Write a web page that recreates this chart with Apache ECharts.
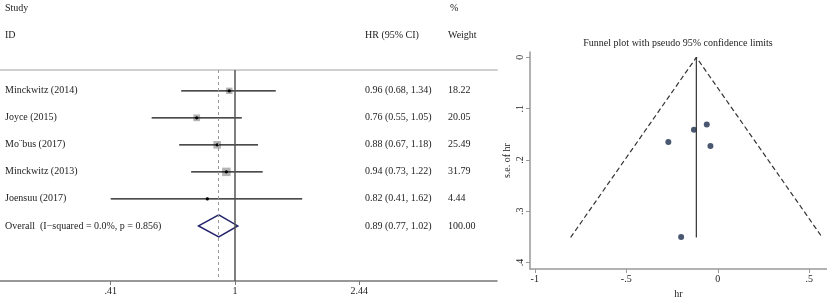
<!DOCTYPE html>
<html><head><meta charset="utf-8">
<script src="https://cdn.jsdelivr.net/npm/echarts@6/dist/echarts.min.js"></script>
<style>html,body{margin:0;padding:0;background:#fff}#c{width:827px;height:304px}</style>
</head><body><div id="c"></div>
<script>
// ---- Forest plot data ----
const studies = ['Minckwitz (2014)', 'Joyce (2015)', 'Mo\u00A8bus (2017)', 'Minckwitz (2013)', 'Joensuu (2017)'];
const hr = [0.96, 0.76, 0.88, 0.94, 0.82];
const ciLow = [0.68, 0.55, 0.67, 0.73, 0.41];
const ciHigh = [1.34, 1.05, 1.18, 1.22, 1.62];
const weights = ['18.22', '20.05', '25.49', '31.79', '4.44'];
const overallLabel = 'Overall  (I\u2212squared = 0.0%, p = 0.856)';
const overallHR = 0.89, overallLow = 0.77, overallHigh = 1.02;
const overallWeight = '100.00';
const forestTickValues = [0.41, 1, 2.44];
const forestTickLabels = ['.41', '1', '2.44'];

// ---- Funnel plot data ----
const funnelLnHR = [-0.04, -0.27, -0.13, -0.06, -0.20];
const funnelSE = [0.173, 0.165, 0.141, 0.131, 0.350];
const funnelPooled = -0.117;
const funnelSEMax = 0.351;
const funnelLimitX = [-0.804, -0.117, 0.571];
const funnelLimitY = [0.351, 0, 0.351];
const funnelXTicks = [-1, -0.5, 0, 0.5];
const funnelXLabels = ['-1', '-.5', '0', '.5'];
const funnelYTicks = [0, 0.1, 0.2, 0.3, 0.4];
const funnelYLabels = ['0', '.1', '.2', '.3', '.4'];

const FONT = '"Liberation Serif", "Times New Roman", serif';
const TXT = '#222';
const ln = Math.log;
const fmt = v => v.toFixed(2);
const hrText = (h, l, u) => fmt(h) + ' (' + fmt(l) + ', ' + fmt(u) + ')';

const rows = studies.map((s, i) => [i, ln(hr[i]), ln(ciLow[i]), ln(ciHigh[i]), parseFloat(weights[i])]);
const textRows = studies.map((s, i) => [i, s, hrText(hr[i], ciLow[i], ciHigh[i]), weights[i]]);
textRows.push([5, overallLabel, hrText(overallHR, overallLow, overallHigh), overallWeight]);

const fMin = -1.686, fMax = 1.880;

const chart = echarts.init(document.getElementById('c'), null, {renderer: 'canvas'});
chart.setOption({
  animation: false,
  textStyle: {fontFamily: FONT},
  grid: [
    {left: 0, right: 330, top: 70, bottom: 23},
    {left: 530, right: 0, top: 52, bottom: 29}
  ],
  xAxis: [
    {type: 'value', gridIndex: 0, min: fMin, max: fMax, position: 'bottom',
     axisLine: {onZero: false, lineStyle: {color: '#777', width: 1.5}},
     axisTick: {show: true, length: 4, lineStyle: {color: '#777'}, customValues: forestTickValues.map(v => ln(v))},
     axisLabel: {fontFamily: FONT, fontSize: 10, color: TXT, margin: 5,
       customValues: forestTickValues.map(v => ln(v)),
       formatter: v => { const i = forestTickValues.findIndex(t => Math.abs(ln(t) - v) < 1e-6); return i >= 0 ? forestTickLabels[i] : ''; }},
     splitLine: {show: false}},
    {type: 'value', gridIndex: 0, min: fMin, max: fMax, position: 'top',
     axisLine: {onZero: false, lineStyle: {color: '#d0d0d0', width: 2}},
     axisTick: {show: false}, axisLabel: {show: false}, splitLine: {show: false}},
    {type: 'value', gridIndex: 1, min: -1.026, max: 0.597, position: 'bottom',
     name: 'hr', nameLocation: 'middle', nameGap: 16,
     nameTextStyle: {fontFamily: FONT, fontSize: 10, color: TXT},
     axisLine: {onZero: false, lineStyle: {color: '#999', width: 1.5}},
     axisTick: {length: 4, lineStyle: {color: '#999'}, customValues: funnelXTicks},
     axisLabel: {fontFamily: FONT, fontSize: 10, color: TXT, margin: 5, customValues: funnelXTicks,
       formatter: v => { const i = funnelXTicks.findIndex(t => Math.abs(t - v) < 1e-6); return i >= 0 ? funnelXLabels[i] : ''; }},
     splitLine: {show: false}}
  ],
  yAxis: [
    {type: 'value', gridIndex: 0, inverse: true, min: -0.77, max: 7.04, show: false},
    {type: 'value', gridIndex: 1, inverse: true, min: -0.0104, max: 0.4127,
     name: 's.e. of hr', nameLocation: 'middle', nameGap: 18,
     nameTextStyle: {fontFamily: FONT, fontSize: 10, color: TXT},
     axisLine: {onZero: false, lineStyle: {color: '#999', width: 1.5}},
     axisTick: {length: 4, lineStyle: {color: '#999'}, customValues: funnelYTicks},
     axisLabel: {fontFamily: FONT, fontSize: 10, color: TXT, margin: 5, rotate: 90, customValues: funnelYTicks,
       formatter: v => { const i = funnelYTicks.findIndex(t => Math.abs(t - v) < 1e-6); return i >= 0 ? funnelYLabels[i] : ''; }},
     splitLine: {show: false}}
  ],
  graphic: [
    {type: 'text', left: 5, top: 3, style: {text: 'Study', font: '10px ' + FONT, fill: TXT}},
    {type: 'text', left: 5, top: 30, style: {text: 'ID', font: '10px ' + FONT, fill: TXT}},
    {type: 'text', left: 365, top: 30, style: {text: 'HR (95% CI)', font: '10px ' + FONT, fill: TXT}},
    {type: 'text', left: 450, top: 3, style: {text: '%', font: '10px ' + FONT, fill: TXT}},
    {type: 'text', left: 448, top: 30, style: {text: 'Weight', font: '10px ' + FONT, fill: TXT}},
    {type: 'text', x: 678, y: 43, style: {text: 'Funnel plot with pseudo 95% confidence limits', font: '10px ' + FONT, fill: TXT, textAlign: 'center', textVerticalAlign: 'middle'}}
  ],
  series: [
    {type: 'line', xAxisIndex: 0, yAxisIndex: 0, data: [], symbol: 'none',
     markLine: {silent: true, symbol: 'none', label: {show: false},
       data: [
         {xAxis: ln(1), lineStyle: {color: '#555', width: 1.5, type: 'solid'}},
         {xAxis: ln(overallHR), lineStyle: {color: '#999', width: 1, type: [3, 3]}}
       ]}},
    {type: 'custom', xAxisIndex: 0, yAxisIndex: 0, data: rows,
     renderItem: (params, api) => {
       const y = api.coord([0, api.value(0)])[1];
       const pe = api.coord([api.value(1), api.value(0)]);
       const lo = api.coord([api.value(2), api.value(0)]);
       const hi = api.coord([api.value(3), api.value(0)]);
       const s = 1.5 * Math.sqrt(api.value(4));
       return {type: 'group', children: [
         {type: 'rect', shape: {x: pe[0] - s / 2, y: y - s / 2, width: s, height: s}, style: {fill: '#b4b4b4'}},
         {type: 'line', shape: {x1: lo[0], y1: y, x2: hi[0], y2: y}, style: {stroke: '#111', lineWidth: 1.2}},
         {type: 'circle', shape: {cx: pe[0], cy: y, r: 1.6}, style: {fill: '#000'}}
       ]};
     }},
    {type: 'custom', xAxisIndex: 0, yAxisIndex: 0, data: [[5, ln(overallHR), ln(overallLow), ln(overallHigh)]],
     renderItem: (params, api) => {
       const c = api.coord([api.value(1), api.value(0)]);
       const lo = api.coord([api.value(2), api.value(0)]);
       const hi = api.coord([api.value(3), api.value(0)]);
       const h = 11;
       return {type: 'polygon', shape: {points: [[lo[0], c[1]], [c[0], c[1] - h], [hi[0], c[1]], [c[0], c[1] + h]]},
         style: {fill: '#fff', stroke: '#23236b', lineWidth: 1.5}};
     }},
    {type: 'custom', xAxisIndex: 0, yAxisIndex: 0, data: textRows, z: 5,
     renderItem: (params, api) => {
       const y = api.coord([0, api.value(0)])[1];
       const x0 = params.coordSys.x;
       const d = textRows[params.dataIndex];
       const st = (t, x) => ({type: 'text', x: x, y: y, style: {text: t, font: '10px ' + FONT, fill: TXT, textVerticalAlign: 'middle'}});
       return {type: 'group', children: [st(d[1], x0 + 5), st(d[2], x0 + 365), st(d[3], x0 + 448)]};
     }},
    {type: 'line', xAxisIndex: 2, yAxisIndex: 1, symbol: 'none',
     data: funnelLimitX.map((x, i) => [x, funnelLimitY[i]]),
     lineStyle: {color: '#333', width: 1.2, type: [5, 3]}},
    {type: 'line', xAxisIndex: 2, yAxisIndex: 1, symbol: 'none',
     data: [[funnelPooled, 0], [funnelPooled, funnelSEMax]],
     lineStyle: {color: '#333', width: 1.2}},
    {type: 'scatter', xAxisIndex: 2, yAxisIndex: 1, symbolSize: 6,
     data: funnelLnHR.map((x, i) => [x, funnelSE[i]]),
     itemStyle: {color: '#1c2d4d'}}
  ]
});
</script>
</body></html>
